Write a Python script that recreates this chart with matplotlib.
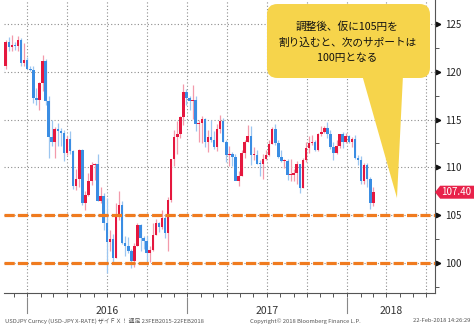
import matplotlib
matplotlib.use("Agg")
import matplotlib.pyplot as plt
import matplotlib.dates as mdates
from matplotlib.patches import FancyBboxPatch, Polygon
from matplotlib.ticker import FixedLocator
from matplotlib.transforms import blended_transform_factory
import numpy as np
import pandas as pd

plt.rcParams['font.family'] = ['Noto Sans CJK JP', 'DejaVu Sans']

# USD/JPY weekly bars (bar placed one week after the week's open)
bar_dates = pd.date_range("2015-11-06", periods=122, freq="W-FRI")

open_ = [
    # 2015
    121.4, 120.6, 123.1, 122.6, 122.8, 122.7, 123.3, 120.9, 121.2, 120.3,
    # 2016
    120.2, 117.3, 117.0, 118.8, 121.1, 116.9, 113.2, 112.6, 114.0, 113.8,
    113.6, 111.5, 113.0, 111.7, 108.1, 108.8, 111.8, 106.3, 107.1, 108.6,
    110.2, 110.3, 106.5, 107.0, 104.2, 102.2, 102.5, 100.5, 104.9, 106.1,
    102.1, 101.8, 101.3, 100.2, 101.8, 104.0, 102.6, 102.3, 101.0, 101.4,
    102.9, 104.2, 103.8, 104.7, 103.1, 106.6, 110.9, 113.2, 113.5, 115.3,
    117.9, 117.3,
    # 2017
    116.9, 117.0, 114.5, 114.6, 115.1, 112.6, 113.2, 112.9, 112.1, 114.0,
    114.8, 112.7, 111.3, 111.4, 111.1, 108.6, 109.1, 111.5, 112.7, 113.3,
    111.3, 111.3, 110.4, 110.3, 110.9, 111.3, 112.4, 114.0, 112.5, 111.1,
    110.7, 110.7, 109.2, 109.2, 109.4, 110.3, 107.8, 110.8, 112.0, 112.5,
    112.6, 111.8, 113.5, 113.7, 114.1, 113.5, 112.1, 111.5, 112.2, 113.5,
    112.6, 113.3,
    # 2018
    112.7, 113.0, 111.0, 110.8, 108.6, 110.2, 108.8, 106.3,
]
high = [
    121.5, 123.3, 123.6, 123.8, 123.1, 123.7, 123.5, 123.0, 121.5, 120.6,
    120.6, 118.3, 118.9, 121.7, 121.3, 117.5, 114.9, 114.2, 114.6, 114.1,
    113.9, 113.3, 113.8, 111.8, 109.8, 111.9, 111.9, 107.5, 109.4, 110.6,
    110.5, 111.4, 107.9, 107.3, 106.8, 103.5, 103.0, 106.3, 107.5, 106.5,
    102.8, 102.7, 101.5, 102.1, 104.2, 104.1, 102.8, 102.8, 101.8, 104.2,
    104.6, 104.3, 105.5, 105.1, 106.9, 110.9, 113.9, 114.8, 115.4, 118.7,
    118.2, 117.5,
    118.6, 117.5, 115.0, 115.4, 115.2, 113.9, 114.9, 113.8, 114.5, 115.5,
    115.2, 112.9, 112.2, 111.6, 111.4, 109.6, 111.8, 112.9, 114.4, 114.3,
    112.1, 111.8, 110.8, 111.4, 111.8, 112.9, 114.2, 114.5, 112.9, 111.8,
    110.9, 110.9, 110.9, 109.8, 110.7, 110.3, 111.0, 112.7, 113.3, 113.4,
    112.9, 113.6, 114.3, 114.3, 114.7, 113.9, 112.7, 112.9, 113.5, 113.7,
    113.6, 113.4,
    113.2, 113.4, 111.3, 111.2, 110.5, 110.5, 109.0, 107.9,
]
low = [
    120.1, 120.3, 122.2, 122.2, 122.3, 122.2, 120.6, 120.6, 120.3, 120.1,
    116.7, 116.5, 116.0, 118.0, 116.5, 111.0, 112.2, 111.0, 112.2, 112.2,
    110.7, 111.3, 111.4, 107.7, 107.6, 107.9, 106.1, 105.5, 107.0, 108.2,
    108.7, 106.5, 106.3, 103.5, 99.0, 101.3, 100.0, 100.5, 104.5, 102.0,
    100.7, 101.0, 99.5, 99.6, 101.8, 101.2, 101.5, 100.1, 100.1, 101.2,
    102.9, 103.2, 103.6, 102.6, 101.2, 106.4, 110.1, 111.4, 113.1, 114.4,
    116.5, 116.0,
    115.1, 113.8, 112.6, 112.5, 112.1, 111.6, 112.6, 111.9, 111.7, 113.6,
    112.6, 110.6, 110.1, 110.1, 108.7, 108.1, 109.1, 111.0, 112.7, 110.2,
    110.8, 110.3, 109.1, 108.8, 110.8, 111.2, 112.4, 112.3, 111.0, 110.6,
    109.9, 108.7, 108.6, 108.6, 108.3, 107.3, 107.8, 110.6, 111.5, 112.3,
    111.7, 111.7, 113.3, 113.6, 113.1, 111.9, 110.8, 111.4, 112.0, 112.0,
    112.5, 112.5,
    112.1, 110.9, 110.2, 108.3, 108.3, 107.9, 105.6, 106.0,
]
close = [
    120.6, 123.1, 122.6, 122.8, 122.7, 123.3, 120.9, 121.2, 120.3, 120.2,
    117.3, 117.0, 118.8, 121.1, 116.9, 113.2, 112.6, 114.0, 113.8, 113.6,
    111.5, 113.0, 111.7, 108.1, 108.8, 111.8, 106.3, 107.1, 108.6, 110.2,
    110.3, 106.5, 107.0, 104.2, 102.2, 102.5, 100.5, 104.9, 106.1, 102.1,
    101.8, 101.3, 100.2, 101.8, 104.0, 102.6, 102.3, 101.0, 101.4, 102.9,
    104.2, 103.8, 104.7, 103.1, 106.6, 110.9, 113.2, 113.5, 115.3, 117.9,
    117.3, 116.9,
    117.0, 114.5, 114.6, 115.1, 112.6, 113.2, 112.9, 112.1, 114.0, 114.8,
    112.7, 111.3, 111.4, 111.1, 108.6, 109.1, 111.5, 112.7, 113.3, 111.3,
    111.3, 110.4, 110.3, 110.9, 111.3, 112.4, 114.0, 112.5, 111.1, 110.7,
    110.7, 109.2, 109.2, 109.4, 110.3, 107.8, 110.8, 112.0, 112.5, 112.6,
    111.8, 113.5, 113.7, 114.1, 113.5, 112.1, 111.5, 112.2, 113.5, 112.6,
    113.3, 112.7,
    113.0, 111.0, 110.8, 108.6, 110.2, 108.8, 106.3, 107.40,
]

y_ticks = [100, 105, 110, 115, 120, 125]
support = [105, 100]
years = [2016, 2017, 2018]
note = "調整後、仮に105円を\n割り込むと、次のサポートは\n100円となる"

fig = plt.figure(figsize=(4.74, 3.31), dpi=100)
ax = fig.add_axes([4 / 474, 38 / 331, 431 / 474, 293 / 331])

x_lo, x_hi = pd.Timestamp("2015-11-09"), pd.Timestamp("2018-07-21")
ax.set_xlim(x_lo, x_hi)
ax.set_ylim(96.86, 127.5)

# dotted grid: price levels and quarter starts
for lvl in y_ticks:
    ax.axhline(lvl, color='#8c8c8c', lw=0.8, ls=(0, (1, 2)), zorder=1)
for d in pd.date_range("2016-01-01", "2018-07-01", freq="QS"):
    ax.axvline(d, color='#8c8c8c', lw=0.8, ls=(0, (1, 2)), zorder=1)

# candles
x = mdates.date2num(bar_dates)
o, h, l, c = map(np.array, (open_, high, low, close))
up = c >= o
body_col = np.where(up, '#e5173e', '#3a8de3')
wick_col = np.where(up, '#f39aab', '#9cc6f0')
ax.vlines(x, l, h, colors=wick_col, lw=0.9, zorder=3)
ax.bar(x, np.maximum(np.abs(c - o), 0.12), bottom=np.minimum(o, c),
       width=5.8, color=body_col, zorder=4)

# support levels
for s in support:
    ax.axhline(s, color='#f07b1f', lw=2.3, ls=(0, (3.2, 1.0)), zorder=5)

# axes styling
for side in ('top', 'left'):
    ax.spines[side].set_visible(False)
for side in ('bottom', 'right'):
    ax.spines[side].set_color('#555555')
    ax.spines[side].set_linewidth(0.8)

ax.yaxis.set_ticks_position('right')
ax.set_yticks(y_ticks)
ax.set_yticklabels([str(v) for v in y_ticks])
ax.yaxis.set_minor_locator(FixedLocator(np.arange(97.5, 126, 5)))
ax.tick_params(axis='y', which='major', length=0, pad=7, labelsize=7,
               labelcolor='#222222')
ax.tick_params(axis='y', which='minor', length=3, width=0.7, color='#555555')

ytrans = blended_transform_factory(ax.transAxes, ax.transData)
ax.plot([1.007] * len(y_ticks), y_ticks, transform=ytrans, ls='none',
        marker='>', ms=3.2, color='#111111', clip_on=False)

ax.xaxis.set_major_locator(mdates.MonthLocator())
ax.tick_params(axis='x', length=3, width=0.7, color='#555555',
               labelbottom=False)

# year separators and labels under the axis
ftrans = blended_transform_factory(ax.transData, fig.transFigure)
edges = [mdates.date2num(pd.Timestamp(f"{y}-01-01")) for y in years]
edges.append(mdates.date2num(x_hi))
for i, yr in enumerate(years):
    ax.plot([edges[i]] * 2, [1 - 298 / 331, 1 - 313 / 331], transform=ftrans,
            color='#888888', lw=0.8, clip_on=False)
    ax.text((edges[i] + edges[i + 1]) / 2, 1 - 311 / 331, str(yr),
            transform=ftrans, ha='center', va='center', fontsize=7.5,
            color='#333333')

# last price tag
p = close[-1]
tag = Polygon([(1.0, p), (1.012, p + 0.68), (1.0905, p + 0.68),
               (1.0905, p - 0.68), (1.012, p - 0.68)], closed=True,
              transform=ytrans, fc='#e8224a', ec='none', clip_on=False, zorder=6)
ax.add_patch(tag)
ax.text(1.048, p, f"{p:.2f}", transform=ytrans, ha='center', va='center',
        fontsize=7, color='white', zorder=7)

# callout
box = FancyBboxPatch((0.6102, 0.7338), 0.3782, 0.2525,
                     boxstyle="round,pad=0,rounding_size=0.024",
                     mutation_aspect=431 / 293, transform=ax.transAxes,
                     fc='#f6d44b', ec='none', zorder=10, clip_on=False)
ax.add_patch(box)
tail = Polygon([(0.8306, 0.745), (0.9258, 0.745), (0.9118, 0.3242)],
               closed=True, transform=ax.transAxes, fc='#f6d44b', ec='none',
               zorder=10)
ax.add_patch(tail)
ax.text(0.796, 0.856, note, transform=ax.transAxes, ha='center', va='center',
        fontsize=7.7, linespacing=1.7, color='#111111', zorder=11)

# footer
fy = 1 - 321 / 331
fig.text(5 / 474, fy, "USDJPY Curncy (USD-JPY X-RATE) ザイＦＸ！ 週足 23FEB2015-22FEB2018",
         fontsize=4.2, color='#555555', va='center')
fig.text(250 / 474, fy, "Copyright© 2018 Bloomberg Finance L.P.",
         fontsize=4.2, color='#555555', va='center')
fig.text(470 / 474, fy, "22-Feb-2018 14:26:29", fontsize=4.2,
         color='#555555', va='center', ha='right')

fig.savefig("out.png", dpi=100)
